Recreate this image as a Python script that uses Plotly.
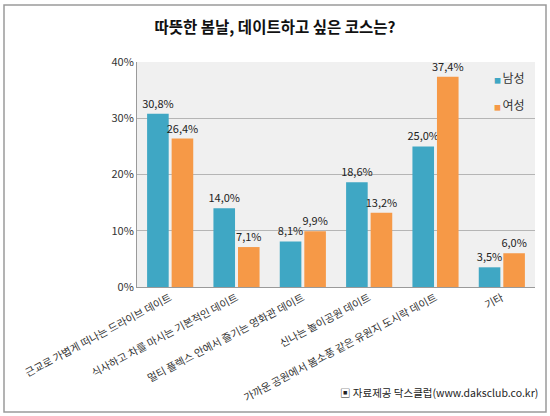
import plotly.graph_objects as go

categories = [
    "근교로 가볍게 떠나는 드라이브 데이트",
    "식사하고 차를 마시는 기본적인 데이트",
    "멀티 플렉스 안에서 즐기는 영화관 데이트",
    "신나는 놀이공원 데이트",
    "가까운 공원에서 봄소풍 같은 유원지 도시락 데이트",
    "기타",
]
male = [30.8, 14.0, 8.1, 18.6, 25.0, 3.5]
female = [26.4, 7.1, 9.9, 13.2, 37.4, 6.0]
series_names = ["남성", "여성"]
y_ticks = [0, 10, 20, 30, 40]
y_tick_labels = ["0%", "10%", "20%", "30%", "40%"]

FONT = "Noto Sans CJK KR"
W, H = 550, 416
L, R, T, B = 137, 15, 62, 129
pw, ph = W - L - R, H - T - B
C_M, C_F = "#3fa7c4", "#f69947"


def fmt(v):
    return f"{v:.1f}".replace(".", ",") + "%"


fig = go.Figure()
for vals, name, col in [(male, series_names[0], C_M), (female, series_names[1], C_F)]:
    fig.add_trace(go.Bar(
        x=categories, y=vals, name=name, showlegend=False,
        marker=dict(color=col, line=dict(width=0)),
        text=[fmt(v) for v in vals], textposition="outside", cliponaxis=False,
        constraintext="none",
        textfont=dict(size=11, color="#222", family=FONT),
    ))
# legend entries: small coloured square key followed by the series name
for name, col in [(series_names[0], C_M), (series_names[1], C_F)]:
    fig.add_trace(go.Scatter(
        x=[None], y=[None], mode="markers", legendgroup=name,
        name=f"<span style='font-size:7px;color:{col}'>■ </span>{name}",
        marker=dict(symbol="square", size=1, color="rgba(0,0,0,0)"),
    ))


def px2x(px):
    return (px - L) / pw


def px2y(py):
    return (H - B - py) / ph


fig.add_shape(type="rect", xref="paper", yref="paper",
              x0=px2x(4), x1=px2x(546), y0=px2y(412), y1=px2y(5),
              line=dict(color="#9a9a9a", width=1.5), layer="below")

fig.update_layout(
    width=W, height=H,
    margin=dict(l=L, r=R, t=T, b=B, autoexpand=False),
    paper_bgcolor="white", plot_bgcolor="#f0f0f0",
    font=dict(family=FONT, color="#222"),
    title=dict(text="<b>따뜻한 봄날, 데이트하고 싶은 코스는?</b>",
               x=0.5, xref="container", xanchor="center",
               y=1 - 28 / H, yref="container", yanchor="middle",
               font=dict(size=15.5, color="#111", family=FONT)),
    barmode="group", bargap=0.26, bargroupgap=0.12,
    showlegend=True,
    legend=dict(x=px2x(454), y=px2y(64), xanchor="left", yanchor="top",
                bgcolor="rgba(0,0,0,0)", font=dict(size=12, color="#333", family=FONT),
                tracegroupgap=8, itemwidth=30),
    xaxis=dict(tickangle=-28, tickfont=dict(size=10.5, color="#333", family=FONT),
               showline=True, linecolor="#9a9a9a", linewidth=1, ticks="",
               showgrid=False),
    yaxis=dict(range=[0, 40], tickvals=y_ticks, ticktext=y_tick_labels,
               tickfont=dict(size=11, color="#333", family=FONT),
               showgrid=True, gridcolor="#b5b5b5", gridwidth=1,
               showline=True, linecolor="#9a9a9a", linewidth=1,
               ticks="", zeroline=False),
    annotations=[dict(
        text="▣ 자료제공 닥스클럽(www.daksclub.co.kr)",
        xref="paper", yref="paper", x=px2x(540), y=px2y(392),
        xanchor="right", yanchor="middle", showarrow=False,
        font=dict(size=10.5, color="#222", family=FONT))],
)

fig.write_html("out.html", config={"displayModeBar": False},
               post_script="document.body.style.margin='0';")
